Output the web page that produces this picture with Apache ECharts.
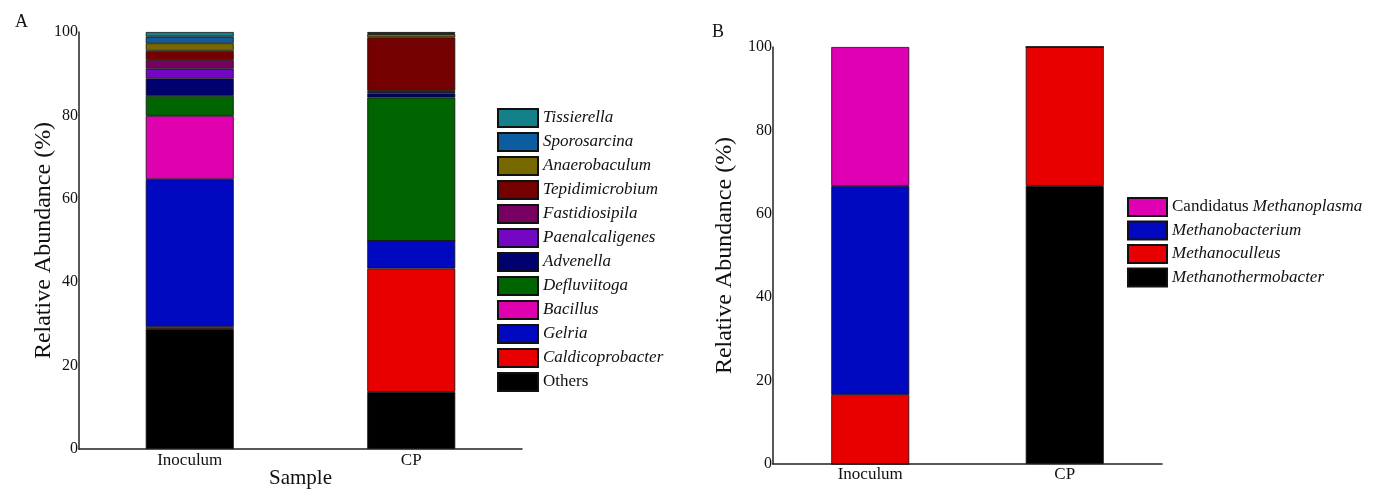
<!DOCTYPE html>
<html>
<head>
<meta charset="utf-8">
<script src="https://cdn.jsdelivr.net/npm/echarts@6/dist/echarts.min.js"></script>
<style>
html,body{margin:0;padding:0;background:#fff;}
#main{width:1375px;height:490px;}
</style>
</head>
<body>
<div id="main"></div>
<script>
// ---- Panel A data (bacteria genera, % relative abundance) ----
const samplesA = ['Inoculum', 'CP'];
const generaA = ['Others', 'Caldicoprobacter', 'Gelria', 'Bacillus', 'Defluviitoga', 'Advenella',
  'Paenalcaligenes', 'Fastidiosipila', 'Tepidimicrobium', 'Anaerobaculum', 'Sporosarcina', 'Tissierella'];
const Others = [28.8, 13.7];
const Caldicoprobacter = [0.5, 29.6];
const Gelria = [35.4, 6.6];
const Bacillus = [15.2, 0.0];
const Defluviitoga = [4.8, 34.4];
const Advenella = [4.1, 1.0];
const Paenalcaligenes = [2.4, 0.3];
const Fastidiosipila = [2.1, 0.3];
const Tepidimicrobium = [2.2, 12.8];
const Anaerobaculum = [1.8, 0.8];
const Sporosarcina = [1.6, 0.2];
const Tissierella = [1.1, 0.3];
const valuesA = [Others, Caldicoprobacter, Gelria, Bacillus, Defluviitoga, Advenella,
  Paenalcaligenes, Fastidiosipila, Tepidimicrobium, Anaerobaculum, Sporosarcina, Tissierella];
const colorsA = ['#000000', '#e80000', '#0008c0', '#df00b0', '#006400', '#00006e',
  '#7407c3', '#780060', '#740000', '#786800', '#0d5ca0', '#13808a'];

// ---- Panel B data (archaea genera) ----
const samplesB = ['Inoculum', 'CP'];
const generaB = ['Methanothermobacter', 'Methanoculleus', 'Methanobacterium', 'Candidatus Methanoplasma'];
const Methanothermobacter = [0, 66.7];
const Methanoculleus = [16.6, 33.3];
const Methanobacterium = [50.1, 0];
const CandidatusMethanoplasma = [33.3, 0];
const valuesB = [Methanothermobacter, Methanoculleus, Methanobacterium, CandidatusMethanoplasma];
const colorsB = ['#000000', '#e80000', '#0008c0', '#df00b4'];

const yTicks = [0, 20, 40, 60, 80, 100];

const serif = '"Liberation Serif", "DejaVu Serif", serif';
const axisLine = {show: true, lineStyle: {color: '#222', width: 1.5}};

const series = [];
generaA.forEach((g, i) => {
  series.push({
    name: g, type: 'bar', stack: 'A', xAxisIndex: 0, yAxisIndex: 0,
    barWidth: 88, data: valuesA[i],
    itemStyle: {color: colorsA[i], borderColor: '#111', borderWidth: 0.8},
    emphasis: {disabled: true}
  });
});
generaB.forEach((g, i) => {
  series.push({
    name: g, type: 'bar', stack: 'B', xAxisIndex: 1, yAxisIndex: 1,
    barWidth: 78, data: valuesB[i],
    itemStyle: {color: colorsB[i], borderColor: '#111', borderWidth: 0.8},
    emphasis: {disabled: true}
  });
});

const yAxisCommon = (nameGap) => ({
  type: 'value', min: 0, max: 100, interval: 20,
  name: 'Relative Abundance (%)', nameLocation: 'middle', nameGap: nameGap, nameMoveOverlap: false,
  nameTextStyle: {fontFamily: serif, fontSize: 24, color: '#111'},
  axisLine: axisLine, axisTick: {show: false}, splitLine: {show: false},
  axisLabel: {fontFamily: serif, fontSize: 16, color: '#111', margin: 1,
    formatter: v => yTicks.indexOf(v) >= 0 ? String(v) : ''}
});

const legendText = {fontFamily: serif, fontSize: 17, color: '#111', fontStyle: 'italic',
  rich: {n: {fontFamily: serif, fontSize: 17, color: '#111', fontStyle: 'normal'},
         i: {fontFamily: serif, fontSize: 17, color: '#111', fontStyle: 'italic'}}};

const option = {
  animation: false,
  backgroundColor: '#fff',
  title: [
    {text: 'A', left: 10, top: 8, textStyle: {fontFamily: serif, fontSize: 18, fontWeight: 'normal', color: '#111'}},
    {text: 'B', left: 707, top: 18, textStyle: {fontFamily: serif, fontSize: 18, fontWeight: 'normal', color: '#111'}}
  ],
  grid: [
    {left: 79, top: 32, width: 443, height: 417, outerBoundsMode: 'none', containLabel: false},
    {left: 773, top: 47, width: 389, height: 417, outerBoundsMode: 'none', containLabel: false}
  ],
  xAxis: [
    {type: 'category', gridIndex: 0, data: samplesA, name: 'Sample', nameLocation: 'middle', nameGap: 19,
      nameMoveOverlap: false,
      nameTextStyle: {fontFamily: serif, fontSize: 21, color: '#111'},
      axisLine: axisLine, axisTick: {show: false},
      axisLabel: {fontFamily: serif, fontSize: 17, color: '#111', margin: 3}},
    {type: 'category', gridIndex: 1, data: samplesB,
      axisLine: axisLine, axisTick: {show: false},
      axisLabel: {fontFamily: serif, fontSize: 17, color: '#111', margin: 2}}
  ],
  yAxis: [
    Object.assign(yAxisCommon(23), {gridIndex: 0}),
    Object.assign(yAxisCommon(36), {gridIndex: 1})
  ],
  legend: [
    {orient: 'vertical', left: 497, top: 108, padding: 0, itemWidth: 40, itemHeight: 18, itemGap: 4,
      icon: 'rect', data: generaA.slice().reverse(), selectedMode: false,
      textStyle: legendText,
      formatter: n => n === 'Others' ? '{n|Others}' : '{i|' + n + '}'},
    {orient: 'vertical', left: 1127, top: 197, padding: 0, itemWidth: 39, itemHeight: 18, itemGap: 3.5,
      icon: 'rect', data: generaB.slice().reverse(), selectedMode: false,
      textStyle: legendText,
      formatter: n => n.indexOf('Candidatus ') === 0 ? '{n|Candidatus }{i|' + n.slice(11) + '}' : '{i|' + n + '}'}
  ],
  series: series
};

const chart = echarts.init(document.getElementById('main'), null, {renderer: 'canvas'});
chart.setOption(option);
</script>
</body>
</html>
